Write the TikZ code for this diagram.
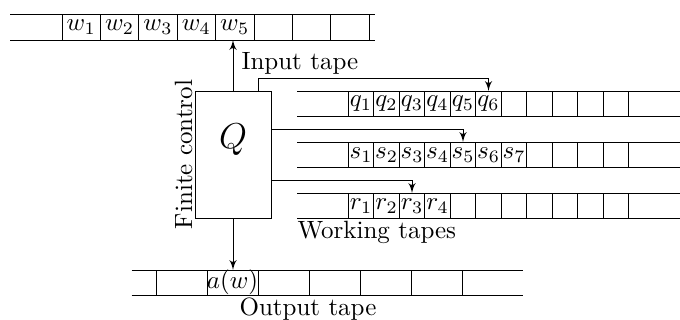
\documentclass[tikz,border=0pt]{standalone}
\usepackage{amsmath}
\usepackage{amssymb}
\usepackage{tikz}
\usetikzlibrary{arrows}
\usetikzlibrary{positioning}
\tikzset{
    control/.style={
           rectangle,
           draw=black, thin,
           minimum width=30.4pt,
           minimum height=50.8pt,
           inner sep=0pt,
           outer sep=0pt,
           },
    cell/.style={
           inner sep=0pt,
           text centered,
           },
    frameless/.style={
           inner sep=0pt,
           },
    tape/.style={
           draw=black, thin,
           },
}

\begin{document}
\begin{tikzpicture}[x=0.4pt, y=-0.4pt]
	\useasboundingbox (0,0) rectangle (680,320);

	% finite control
	\node[control] (ctrl) at (233,154.5) {};
	\node[cell] (state) at (233,140) {\Large $Q$};
	\node[frameless, rotate=90, anchor=base] (fclbl) at (192,154.5) {Finite control};

	% input tape
	\draw[tape] (10,14) -- (375,14) (10,40) -- (375,40);
	\foreach \i in {0,...,8}
		\draw[tape] (62+38.4*\i,14) -- (62+38.4*\i,40);
	\foreach \t [count=\i from 0] in {w_1,w_2,w_3,w_4,w_5}
		\node[cell] (in\i) at (81.2+38.4*\i,27) {$\t$};
	\coordinate (inhead) at (233,40);
	\node[frameless, anchor=base west] (inlbl) at (241,70) {Input tape};

	% working tapes
	\foreach \y in {91,142,193} {
		\draw[tape] (297,\y) -- (680,\y) (297,\y+25.5) -- (680,\y+25.5);
		\foreach \i in {0,...,11}
			\draw[tape] (348.3+25.5*\i,\y) -- (348.3+25.5*\i,\y+25.5);
	}
	\foreach \t [count=\i from 0] in {q_1,q_2,q_3,q_4,q_5,q_6}
		\node[cell] (q\i) at (361+25.5*\i,104) {$\t$};
	\foreach \t [count=\i from 0] in {s_1,s_2,s_3,s_4,s_5,s_6,s_7}
		\node[cell] (s\i) at (361+25.5*\i,155) {$\t$};
	\foreach \t [count=\i from 0] in {r_1,r_2,r_3,r_4}
		\node[cell] (r\i) at (361+25.5*\i,206) {$\t$};
	\coordinate (qhead) at (488.5,91);
	\coordinate (shead) at (463,142);
	\coordinate (rhead) at (412,193);
	\node[frameless, anchor=base west] (wklbl) at (297,238) {Working tapes};

	% output tape
	\draw[tape] (131.7,270) -- (523,270) (131.7,295) -- (523,295);
	\foreach \i in {0,...,6}
		\draw[tape] (156+51*\i,270) -- (156+51*\i,295);
	\node[cell] (out) at (232.5,282.5) {$a(w)$};
	\coordinate (outhead) at (233,270);
	\node[frameless, anchor=base] (outlbl) at (308,315) {Output tape};

	\path[-latex',thin]	(ctrl.north) edge (inhead)
						(ctrl.south) edge (outhead);
	\draw[-latex',thin] ([xshift=10pt]ctrl.north) -- ++(0,4.8pt) -| (qhead);
	\draw[-latex',thin] ([yshift=10.2pt]ctrl.east) -| (shead);
	\draw[-latex',thin] ([yshift=-10.2pt]ctrl.east) -| (rhead);

\end{tikzpicture}
\end{document}
